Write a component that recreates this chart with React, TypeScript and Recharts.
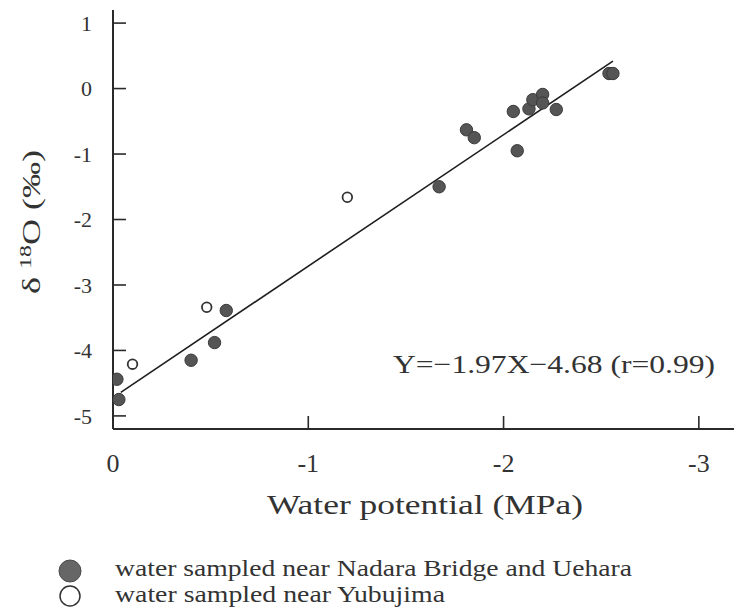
import { ScatterChart, Scatter, XAxis, YAxis, Customized } from 'recharts';

// water potential (MPa) and delta 18O (permil)
const nadaraX = [-0.02, -0.03, -0.4, -0.52, -0.58, -1.67, -1.81, -1.85, -2.07, -2.05, -2.13, -2.15, -2.2, -2.2, -2.27, -2.54, -2.56];
const nadaraY = [-4.44, -4.75, -4.15, -3.88, -3.39, -1.5, -0.63, -0.75, -0.95, -0.35, -0.31, -0.17, -0.09, -0.22, -0.32, 0.23, 0.23];

const yubuX = [-0.1, -0.48, -1.2];
const yubuY = [-4.21, -3.34, -1.66];

// regression line end points
const fitX = [-0.04, -2.56];
const fitY = [-4.64, 0.42];

const xTicks = [0, -1, -2, -3];
const yTicks = [1, 0, -1, -2, -3, -4, -5];

const toPoints = (xs: number[], ys: number[]) => xs.map((x, i) => ({ x, y: ys[i] }));

const ink = '#2a2a2a';
const font = 'Liberation Serif, DejaVu Serif, serif';

const FilledDot = (props: any) => (
  <circle cx={props.cx} cy={props.cy} r={6.2} fill="#555" stroke="#3a3a3a" strokeWidth={1} />
);

const OpenDot = (props: any) => (
  <circle cx={props.cx} cy={props.cy} r={4.8} fill="#fff" stroke="#333" strokeWidth={1.8} />
);

const XTick = (props: any) => (
  <text x={props.x} y={props.y} dy="0.71em" textAnchor="middle" fontSize={26} fill="#333" fontFamily={font}>
    {props.payload.value}
  </text>
);

const YTick = (props: any) => (
  <text x={props.x} y={props.y} dy="0.36em" textAnchor="end" fontSize={22} fill="#333" fontFamily={font}>
    {props.payload.value}
  </text>
);

function Annotations() {
  return (
    <g fontFamily={font} fill="#333">
      <text transform="translate(40,294) rotate(-90)" fontSize={26} textLength={144} lengthAdjust="spacingAndGlyphs">
        δ<tspan dx={6} dy={-9} fontSize={17}>18</tspan>
        <tspan dy={9}>O (‰)</tspan>
      </text>
      <text x={267} y={514} fontSize={28} textLength={316} lengthAdjust="spacingAndGlyphs">
        Water potential (MPa)
      </text>
      <text x={393} y={373} fontSize={26} textLength={322} lengthAdjust="spacingAndGlyphs">
        Y=−1.97X−4.68 (r=0.99)
      </text>
      <circle cx={70} cy={571} r={11} fill="#666" stroke="#4a4a4a" strokeWidth={1} />
      <circle cx={70} cy={596} r={10} fill="none" stroke="#333" strokeWidth={1.5} />
      <text x={115} y={576} fontSize={23} textLength={517} lengthAdjust="spacingAndGlyphs">
        water sampled near Nadara Bridge and Uehara
      </text>
      <text x={115} y={602} fontSize={23} textLength={330} lengthAdjust="spacingAndGlyphs">
        water sampled near Yubujima
      </text>
    </g>
  );
}

export default function App() {
  return (
    <div style={{ position: 'absolute', left: 0, top: 0, width: 734, height: 615, background: '#fff', fontFamily: font }}>
      <ScatterChart width={734} height={615} margin={{ top: 10, right: 0, bottom: 156, left: 53 }}>
        <XAxis
          type="number"
          dataKey="x"
          domain={[-3.18, 0]}
          reversed
          ticks={xTicks}
          height={30}
          allowDataOverflow
          tickSize={-13}
          tickMargin={38}
          axisLine={{ stroke: ink, strokeWidth: 2 }}
          tickLine={{ stroke: ink, strokeWidth: 1.6 }}
          tick={XTick}
        />
        <YAxis
          type="number"
          dataKey="y"
          domain={[-5.2, 1.2]}
          ticks={yTicks}
          width={60}
          allowDataOverflow
          tickSize={-13}
          tickMargin={34}
          axisLine={{ stroke: ink, strokeWidth: 2 }}
          tickLine={{ stroke: ink, strokeWidth: 1.6 }}
          tick={YTick}
        />
        <Scatter
          data={toPoints(fitX, fitY)}
          line={{ stroke: '#1e1e1e', strokeWidth: 1.6 }}
          shape={() => <g />}
          isAnimationActive={false}
        />
        <Scatter data={toPoints(nadaraX, nadaraY)} shape={FilledDot} isAnimationActive={false} />
        <Scatter data={toPoints(yubuX, yubuY)} shape={OpenDot} isAnimationActive={false} />
        <Customized component={Annotations} />
      </ScatterChart>
    </div>
  );
}
